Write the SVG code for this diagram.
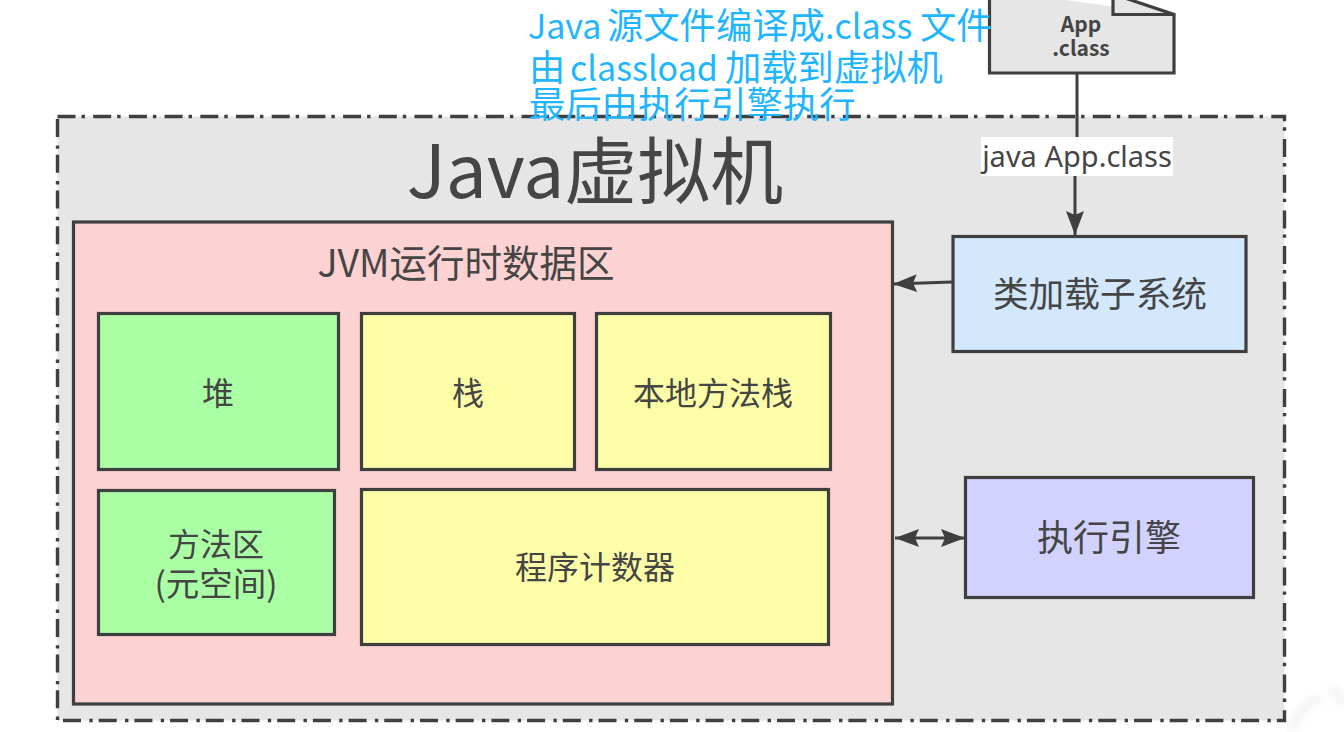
<svg xmlns="http://www.w3.org/2000/svg" width="1344" height="732" viewBox="0 0 1344 732">
<style>
.b{stroke:#3f3f3f;stroke-width:3.2;stroke-linejoin:miter}
.c{stroke:#3f3f3f;stroke-width:3;fill:none}
.t{font-family:"Noto Sans CJK SC","Noto Sans",sans-serif;fill:#454545;text-anchor:middle;font-weight:400}
.n{font-family:"Noto Sans CJK SC","Noto Sans",sans-serif;fill:#1fb6ff;font-size:36.300px}
.l{font-size:34px}
</style>
<defs>
<marker id="a" markerUnits="userSpaceOnUse" markerWidth="26" markerHeight="20" refX="24" refY="9" orient="auto-start-reverse"><path d="M0 0L24 9L0 18L4 9Z" fill="#3f3f3f"/></marker>
<filter id="s" x="-50%" y="-50%" width="200%" height="200%"><feGaussianBlur stdDeviation="5"/></filter>
</defs>
<rect width="1344" height="732" fill="#fff"/>
<g id="shadow"><path d="M1292 732Q1296 706 1322 698M1332 686L1344 706" fill="none" stroke="#dcdcdc" stroke-width="3" filter="url(#s)"/></g>
<g id="jvm">
<rect x="57.5" y="116.5" width="1227" height="604" fill="#e6e6e6"/>
<path d="M57.5 116.5H1284.5V720.5H57.5Z" fill="none" stroke="#3f3f3f" stroke-width="3.4" stroke-dasharray="18 6 3.4 8.3"/>
<text class="t" x="595" y="198" font-size="73">Java虚拟机</text>
</g>
<g id="file">
<path class="b" d="M989.500 -10V73H1174V14.500L1125 -2H1113V14.500H1174" fill="#e6e6e6"/>
<text class="t" x="1081" y="32" font-size="21" style="font-weight:700">App</text>
<text class="t" x="1081" y="56" font-size="21" style="font-weight:700">.class</text>
</g>
<g id="connectors">
<path class="c" d="M1077 73V137"/>
<path class="c" d="M1075 176V235" marker-end="url(#a)"/>
<path class="c" d="M952 282L893 284" marker-end="url(#a)"/>
<path class="c" d="M895 538H965" marker-start="url(#a)" marker-end="url(#a)"/>
</g>
<g id="edge-label">
<rect x="981" y="137" width="192" height="39" fill="#fff"/>
<text x="1077" y="167" font-size="29" text-anchor="middle" font-family="Noto Sans,sans-serif" fill="#454545">java App.class</text>
</g>
<g id="runtime">
<rect class="b" x="73.500" y="222" width="819" height="482" fill="#fcd2d2"/>
<text class="t" x="466" y="277" font-size="37.500">JVM运行时数据区</text>
</g>
<g id="heap"><rect class="b" x="98.500" y="313.500" width="240" height="156" fill="#aaffa5"/><text class="t" x="218" y="405" font-size="32">堆</text></g>
<g id="stack"><rect class="b" x="361.500" y="313.500" width="213" height="156" fill="#fdfda8"/><text class="t" x="468" y="405" font-size="32">栈</text></g>
<g id="native"><rect class="b" x="596.500" y="313.500" width="234" height="156" fill="#fdfda8"/><text class="t" x="713" y="405" font-size="32">本地方法栈</text></g>
<g id="method"><rect class="b" x="98.500" y="490.500" width="236" height="144" fill="#aaffa5"/><text class="t" x="216" y="556" font-size="32">方法区</text><text class="t" x="216" y="596" font-size="33.500">(元空间)</text></g>
<g id="pc"><rect class="b" x="361.500" y="489.500" width="467" height="155" fill="#fdfda8"/><text class="t" x="595" y="579" font-size="32">程序计数器</text></g>
<g id="loader"><rect class="b" x="953" y="236.500" width="293" height="115" fill="#d3e8fd"/><text class="t" x="1100" y="307" font-size="35.700">类加载子系统</text></g>
<g id="engine"><rect class="b" x="965.500" y="477.500" width="288" height="120" fill="#d2d2fe"/><text class="t" x="1109" y="551" font-size="36">执行引擎</text></g>
<g id="note">
<text class="n" y="39"><tspan class="l" x="528">Java</tspan><tspan x="607">源文件编译成</tspan><tspan class="l" x="825">.class</tspan><tspan x="920">文件</tspan></text>
<text class="n" y="81"><tspan x="529">由</tspan><tspan class="l" x="570">classload</tspan><tspan x="725">加载到虚拟机</tspan></text>
<text class="n" y="118" x="529">最后由执行引擎执行</text>
</g>
</svg>
